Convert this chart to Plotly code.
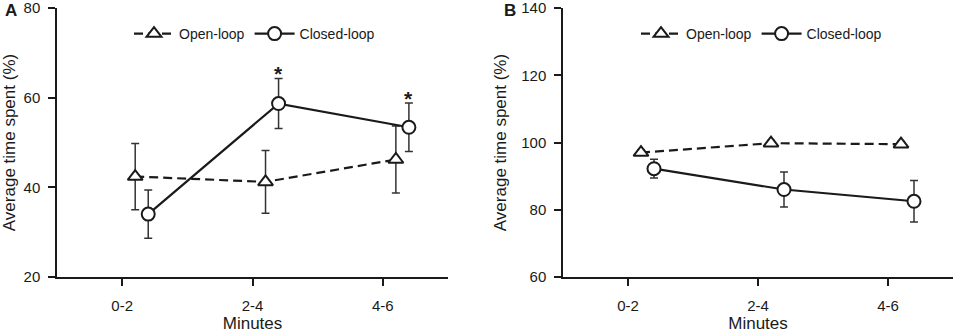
import plotly.graph_objects as go

# ---- data ----
categories = ["0-2", "2-4", "4-6"]
cat_pos = [0, 1, 2]

# Panel A
a_open_mean = [42.4, 41.2, 46.2]
a_open_err = [7.4, 7.0, 7.5]
a_closed_mean = [34.0, 58.7, 53.4]
a_closed_err = [5.4, 5.6, 5.4]
a_signif = [False, True, True]
a_ticks = [20, 40, 60, 80]

# Panel B
b_open_mean = [97.0, 99.8, 99.5]
b_open_err = [0.8, 0.8, 0.8]
b_closed_mean = [92.2, 86.0, 82.5]
b_closed_err = [2.8, 5.2, 6.2]
b_ticks = [60, 80, 100, 120, 140]

open_offset = 0.1
closed_offset = 0.2

FONT = "Arial, Liberation Sans, sans-serif"
INK = "#1a1a1a"

fig = go.Figure()


def add_panel(xa, ya, open_mean, open_err, closed_mean, closed_err, legend):
    fig.add_trace(go.Scatter(
        x=[p + open_offset for p in cat_pos], y=open_mean,
        mode="lines+markers", name="Open-loop",
        line=dict(color=INK, width=2.2, dash="9px,5px"),
        marker=dict(symbol="triangle-up", size=13, color="white",
                    line=dict(color=INK, width=2)),
        error_y=dict(type="data", array=open_err, color="#333333",
                     thickness=1.5, width=4),
        xaxis=xa, yaxis=ya, legend=legend,
    ))
    fig.add_trace(go.Scatter(
        x=[p + closed_offset for p in cat_pos], y=closed_mean,
        mode="lines+markers", name="Closed-loop",
        line=dict(color=INK, width=2.2),
        marker=dict(symbol="circle", size=13, color="white",
                    line=dict(color=INK, width=2)),
        error_y=dict(type="data", array=closed_err, color="#333333",
                     thickness=1.5, width=4),
        xaxis=xa, yaxis=ya, legend=legend,
    ))


add_panel("x", "y", a_open_mean, a_open_err, a_closed_mean, a_closed_err, "legend")
add_panel("x2", "y2", b_open_mean, b_open_err, b_closed_mean, b_closed_err, "legend2")

axis_common = dict(
    showline=True, linecolor=INK, linewidth=1.5,
    ticks="outside", ticklen=7, tickwidth=1.5, tickcolor=INK,
    showgrid=False, zeroline=False, ticklabeloverflow="allow",
    automargin=False,
    tickfont=dict(family=FONT, size=15, color=INK),
)

xaxis_common = dict(axis_common, tickmode="array", tickvals=cat_pos,
                    ticktext=categories, range=[-0.5, 2.5],
                    ticklabelstandoff=7,
                    title=dict(text="Minutes", standoff=3,
                               font=dict(family=FONT, size=17, color=INK)))

yaxis_common = dict(axis_common, ticklabelstandoff=5, tickmode="array",
                    title=dict(text="Average time spent (%)", standoff=10,
                               font=dict(family=FONT, size=17, color=INK)))

legend_common = dict(orientation="h", y=1 - 34 / 334,
                     xanchor="left", yanchor="middle", bgcolor="rgba(0,0,0,0)",
                     font=dict(family=FONT, size=14, color=INK), itemwidth=40,
                     tracegroupgap=0)

fig.update_layout(
    width=957, height=334,
    margin=dict(l=0, r=0, t=0, b=0, autoexpand=False),
    paper_bgcolor="white", plot_bgcolor="white",
    font=dict(family=FONT, color=INK),
    xaxis=dict(xaxis_common, domain=[57 / 957, 448 / 957], anchor="y"),
    yaxis=dict(yaxis_common, domain=[1 - 277 / 334, 1 - 8 / 334], anchor="x",
               range=[a_ticks[0] - 0.05, a_ticks[-1] + 0.05], tickvals=a_ticks),
    xaxis2=dict(xaxis_common, domain=[563 / 957, 953 / 957], anchor="y2"),
    yaxis2=dict(yaxis_common, domain=[1 - 277 / 334, 1 - 8 / 334], anchor="x2",
                range=[b_ticks[0] - 0.05, b_ticks[-1] + 0.05], tickvals=b_ticks),
    showlegend=True,
    legend=dict(legend_common, x=129 / 957),
    legend2=dict(legend_common, x=636 / 957),
)

# significance asterisks (panel A, closed-loop)
for p, m, e, s in zip(cat_pos, a_closed_mean, a_closed_err, a_signif):
    if s:
        fig.add_annotation(x=p + closed_offset, y=m + e, xref="x", yref="y",
                           text="<b>*</b>", showarrow=False, yanchor="bottom",
                           yshift=-9, font=dict(family=FONT, size=21, color=INK))

# panel letters
fig.add_annotation(x=3 / 957, y=1 - 11 / 334, xref="paper", yref="paper",
                   text="<b>A</b>", showarrow=False, xanchor="left", yanchor="middle",
                   font=dict(family=FONT, size=17, color=INK))
fig.add_annotation(x=502 / 957, y=1 - 11 / 334, xref="paper", yref="paper",
                   text="<b>B</b>", showarrow=False, xanchor="left", yanchor="middle",
                   font=dict(family=FONT, size=17, color=INK))

fig.write_html(
    "out.html",
    config={"displayModeBar": False},
    post_script="document.body.style.margin='0px';document.body.style.overflow='hidden';",
)
